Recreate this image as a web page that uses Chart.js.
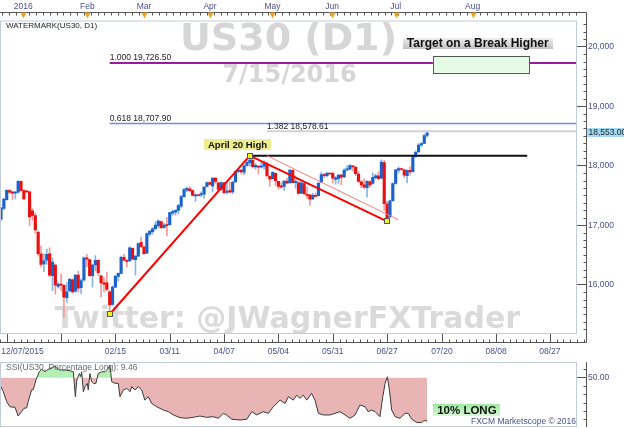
<!DOCTYPE html>
<html><head><meta charset="utf-8">
<script src="https://cdn.jsdelivr.net/npm/chart.js@4.4.1/dist/chart.umd.min.js"></script>
<style>
html,body{margin:0;padding:0;background:#fff;overflow:hidden}
#wrap{position:relative;width:624px;height:428px;background:#fff}
#main{position:absolute;left:0;top:0}
#ssi{position:absolute;left:0;top:362px}
</style></head><body>
<div id="wrap">
<canvas id="main" width="624" height="362"></canvas>
<canvas id="ssi" width="624" height="66"></canvas>
</div>
<script>
// ---------------- DATA ----------------
// daily candles, bar index 0 = 2015-12-21 ... 149 = 2016-07-15
const opens = [17100,17280,17430,17580,17560,17540,17553,17737,17581,17575,
17560,17240,17160,16880,16520,16350,16410,16520,16150,16330,
15970,16010,15990,15780,15900,16080,15890,16160,15950,16080,
16450,16420,16150,16330,16410,16150,16030,16030,15880,15670,
15960,16140,16190,16460,16410,16400,16610,16420,16480,16710,
16630,16530,16850,16890,16940,16990,17060,16960,17010,17010,
17200,17220,17250,17320,17480,17590,17610,17580,17490,17510,
17510,17520,17650,17715,17660,17790,17710,17600,17710,17550,
17580,17560,17725,17905,17925,17890,18005,18050,18095,17980,
17990,17975,17990,18030,17820,17780,17870,17735,17660,17650,
17740,17710,17920,17715,17710,17540,17700,17520,17510,17440,
17500,17495,17720,17850,17830,17875,17870,17770,17780,17840,
17810,17930,17940,17995,17975,17860,17730,17680,17630,17730,
17700,17800,17830,17790,18050,17360,17140,17410,17700,17925,
17950,17930,17830,17920,17900,18150,18230,18350,18375,18510];
const highs = [17300,17450,17600,17600,17570,17570,17750,17745,17600,17580,
17570,17280,17200,16900,16650,16520,16600,16620,16450,16350,
16030,16180,16000,16040,16110,16100,16170,16230,16100,16470,
16510,16430,16340,16490,16420,16160,16120,16210,15900,15980,
16160,16200,16480,16510,16420,16640,16620,16490,16700,16800,
16650,16870,16910,16960,17060,17090,17070,17030,17130,17220,
17260,17260,17350,17500,17620,17640,17650,17600,17530,17520,
17560,17650,17730,17730,17800,17800,17720,17730,17720,17700,
17720,17740,17910,17950,17940,18010,18100,18168,18130,18040,
18000,18060,18080,18060,17830,17900,17880,17740,17720,17750,
17790,17935,17930,17830,17740,17730,17720,17640,17520,17540,
17540,17720,17890,17870,17880,17880,17890,17820,17850,17860,
17950,18000,18020,18000,17980,17900,17760,17780,17750,17750,
17880,17860,17900,18100,18090,17400,17420,17710,17940,17980,
17960,17940,17930,17980,18160,18250,18370,18390,18530,18580];
const lows = [17080,17260,17420,17530,17430,17440,17540,17575,17430,17545,
16990,17080,16860,16480,16300,16220,16340,16130,15900,15840,
15940,15900,15450,15700,15880,15860,15870,15880,15850,16060,
16300,16140,15960,16230,16150,15800,15880,15900,15503,15650,
15950,16060,16180,16400,16300,16390,16420,16160,16470,16620,
16510,16520,16820,16850,16920,16960,16940,16950,16820,17000,
17170,17170,17190,17290,17470,17560,17560,17490,17400,17490,
17480,17450,17640,17680,17560,17700,17580,17580,17530,17520,
17550,17530,17720,17880,17860,17850,17990,17990,17960,17940,
17860,17960,17940,17810,17650,17770,17670,17610,17620,17580,
17700,17710,17710,17620,17520,17530,17510,17450,17330,17430,
17480,17490,17710,17800,17810,17855,17710,17690,17700,17680,
17800,17910,17930,17910,17830,17720,17630,17620,17470,17640,
17690,17770,17760,17780,17250,17063,17130,17400,17690,17880,
17920,17800,17710,17840,17890,18140,18225,18320,18370,18480];
const closes = [17290,17440,17585,17555,17540,17555,17737,17581,17441,17560,
17140,17165,16920,16520,16340,16400,16510,16160,16380,15990,
16010,15990,15790,15880,16090,15880,16160,15940,16070,16450,
16430,16150,16330,16410,16200,16030,16010,15920,15660,15960,
16140,16190,16460,16410,16390,16620,16430,16480,16690,16640,
16520,16860,16900,16940,17000,17070,16960,17000,16990,17210,
17230,17250,17330,17480,17600,17620,17580,17500,17510,17495,
17530,17640,17715,17685,17790,17735,17600,17715,17545,17575,
17555,17720,17905,17925,17895,18000,18055,18095,17985,18005,
17975,17990,18040,17830,17775,17890,17750,17650,17640,17740,
17705,17925,17715,17735,17535,17710,17530,17500,17435,17500,
17485,17705,17850,17830,17875,17860,17790,17795,17840,17805,
17920,17945,18000,17980,17865,17735,17675,17640,17735,17675,
17805,17830,17780,18060,17360,17120,17410,17700,17930,17950,
17935,17840,17920,17895,18145,18225,18345,18370,18505,18553];

// axis categories / tick labels (positions in bar-index units)
const bottomLabels   = ['12/07/2015','02/15','03/11','04/07','05/04','05/31','06/27','07/20','08/08','08/27'];
const bottomLabelIdx = [7.5, 40, 59, 78, 97, 116, 135, 154.2, 173.1, 191.9];
const bottomMajorIdx = [2.1, 21, 40, 59, 78, 97, 116, 135, 154.2, 173.1, 191.9];
const monthLabels = ['2016','Feb','Mar','Apr','May','Jun','Jul','Aug'];
const monthIdx    = [7.8, 30.2, 50, 73.1, 94.9, 115.8, 138, 164.9];
const priceTicks  = [16000, 17000, 18000, 19000, 20000];
const lastPrice   = 18553.00;

// fibonacci levels
const fibRatios   = ['1.000', '0.618', '1.382'];
const fibLevels   = [19726.50, 18707.90, 18578.61];
const fibStartIdx = [38, 38, 93];

// swing points (Feb 11 low, Apr 20 high, Jun 27 low) and channel line
const swingIdx   = [38, 87, 135];
const swingPrice = [15503, 18168, 17063];
const channelIdx   = [93, 139];
const channelPrice = [18168, 17089];
const highLineEndIdx = 184;
const targetZoneIdx   = [151, 184.6];
const targetZonePrice = [19566, 19846];
const aprLabelAt    = [82.7, 18352];
const targetLabelAt = [166.7, 20061];

// SSI (percentage long)
const ssiIdx = [0,0.8,2,3.1,4.9,6,7.2,8,9,9.5,
10.7,11.3,12.2,13.4,14.2,15.4,16.5,17.7,18.9,19.5,
20.6,22.4,24.1,25.3,26,26.5,27.4,27.9,28.2,28.8,
29.4,30.2,30.5,31.1,31.7,32.3,33.2,34,35.2,36.4,
37.5,38.1,38.7,39.9,41,41.6,42.8,44,45.1,45.7,
46.9,48,49.2,50.3,51.5,52.7,54.4,56.8,58.5,60.3,
62.6,64.9,67.2,69.6,71.9,74.2,76,77.7,78.9,80.7,
83.6,85.9,87.7,89.4,91.7,93.5,95.2,97.6,99.3,100.5,
102.2,103.4,104.5,105.7,106.9,108.6,109.8,111,112.7,115,
116.8,118.5,120.3,122,123.8,125.5,127.3,128.4,129.6,130.8,
132.5,133.5,134.3,135.1,135.8,136.6,137.8,139.5,141.3,142.4,
143.6,145.4,147.1,147.9,149];
const ssiVal = [41.6,36.9,27.5,22.8,22.3,14.1,18.2,21.3,21.8,27.5,
38.5,38.9,47.8,55.6,57.9,55.6,57.9,58.8,61,58.8,
57.2,57.2,56.5,55.6,32.2,47.8,53.9,51.1,55.6,36.9,
41.6,44.7,38.5,53.9,46.3,44.7,44.7,53.9,55.6,55.6,
58.8,61.9,46.3,44.7,44.7,32.2,38.5,40,36.9,41.6,
38.5,41.6,38.5,29,32.2,25.9,22.8,19.7,18.2,15.1,
12.6,12,12.9,14.1,12.9,13.5,12,16.6,15.1,11.1,
10.4,11.1,18.2,15.1,18.2,16.6,22.8,29,25.9,32.2,
29,33.7,30.6,33.7,29,35.3,29,16.6,15.1,15.1,
16.6,18.2,15.1,12,15.1,24.4,22.8,18.2,19.7,18.2,
13.5,32.2,44.7,50.9,38.5,19.7,13.5,12,16.6,16.6,
11.1,8,8,9.9,9.46];
const ssiTicks = [50];
const ssiLabelText = '10% LONG';
const ssiLabelAt = [162.9, 19.8];

// ---------------- STYLE ----------------
const SANS = '"Liberation Sans", Arial, sans-serif';
const WM = '"DejaVu Sans", Verdana, sans-serif';
const AXIS_TXT = '#4b4f8a';
const AXIS_LN = '#555555';
const BORDER = '#c3cbdb';
const UP = '#1a62cc', DOWN = '#e81010', UPW = '#8ab4e6', DOWNW = '#f29a9a';
const X_MIN = -0.35, X_MAX = 201.4;

function fmt(v, d){ return v.toLocaleString('en-US',{minimumFractionDigits:d, maximumFractionDigits:d}); }
function seg(ctx,x1,y1,x2,y2){ ctx.beginPath(); ctx.moveTo(x1,y1); ctx.lineTo(x2,y2); ctx.stroke(); }
function noPad(s){ s.paddingLeft = 0; s.paddingRight = 0; s.paddingTop = 0; s.paddingBottom = 0; }

const isUp = opens.map((o,i)=>closes[i] >= o);

const mainDecor = {
  id:'mainDecor',
  beforeDatasetsDraw(chart){
    const {ctx, chartArea:a} = chart;
    ctx.save();
    ctx.beginPath(); ctx.rect(a.left,a.top,a.right-a.left,a.bottom-a.top); ctx.clip();
    const cx = (a.left+a.right)/2;
    ctx.fillStyle = '#d6d6d6'; ctx.textAlign='center'; ctx.textBaseline='alphabetic';
    ctx.font = 'bold 38px '+WM; ctx.fillText('US30 (D1)', cx, 50);
    ctx.font = 'bold 24px '+WM; ctx.fillText('7/15/2016', cx+1, 82);
    ctx.fillStyle = '#dadada';
    ctx.font = 'bold 30px '+WM; ctx.fillText('Twitter: @JWagnerFXTrader', cx-1, 328);
    ctx.restore();
  },
  afterDatasetsDraw(chart){
    const {ctx, chartArea:a, scales:{x,y}} = chart;
    const X = v=>x.getPixelForValue(v), Y = v=>y.getPixelForValue(v);
    ctx.save();
    ctx.beginPath(); ctx.rect(a.left,a.top,a.right-a.left,a.bottom-a.top); ctx.clip();
    // fib levels
    const fibColors = ['#9a1c9a','#8282ee','#d2d2d2'];
    const fibWidths = [2, 1.5, 2];
    fibLevels.forEach((lv,k)=>{
      const yy = Y(lv);
      ctx.strokeStyle = fibColors[k]; ctx.lineWidth = fibWidths[k];
      seg(ctx, X(fibStartIdx[k]), yy, a.right, yy);
    });
    ctx.fillStyle = '#222'; ctx.font = '8.5px '+SANS; ctx.textAlign='left'; ctx.textBaseline='alphabetic';
    fibLevels.forEach((lv,k)=>{
      ctx.fillText(fibRatios[k]+' '+fmt(lv,2), X(fibStartIdx[k]), Y(lv)-2.5);
    });
    // April 20 high horizontal
    ctx.strokeStyle = '#111'; ctx.lineWidth = 2;
    seg(ctx, X(swingIdx[1]), Y(swingPrice[1]), X(highLineEndIdx), Y(swingPrice[1]));
    // channel (thin)
    ctx.strokeStyle = '#ff7c7c'; ctx.lineWidth = 1;
    seg(ctx, X(channelIdx[0]), Y(channelPrice[0]), X(channelIdx[1]), Y(channelPrice[1]));
    // swing lines
    ctx.strokeStyle = '#ff0000'; ctx.lineWidth = 2;
    ctx.beginPath();
    swingIdx.forEach((s,k)=>{ const px=X(s), py=Y(swingPrice[k]); k?ctx.lineTo(px,py):ctx.moveTo(px,py); });
    ctx.stroke();
    // markers
    swingIdx.forEach((s,k)=>{
      const px=Math.round(X(s)), py=Math.round(Y(swingPrice[k]));
      ctx.fillStyle='#f2f222'; ctx.fillRect(px-2.5,py-2.5,5,5);
      ctx.strokeStyle='#555'; ctx.lineWidth=1; ctx.strokeRect(px-2.5,py-2.5,5,5);
    });
    // April 20 High label
    ctx.font = 'bold 9.6px '+SANS;
    let t = 'April 20 High', w = ctx.measureText(t).width;
    let cx = X(aprLabelAt[0]), cy = Y(aprLabelAt[1]);
    ctx.fillStyle = '#eeee90'; ctx.fillRect(Math.round(cx-w/2-4), Math.round(cy-5.5), Math.round(w+8), 11);
    ctx.fillStyle = '#111'; ctx.textAlign='center'; ctx.textBaseline='middle';
    ctx.fillText(t, cx, cy+0.5);
    // target zone
    const zx1=X(targetZoneIdx[0]), zx2=X(targetZoneIdx[1]), zy1=Y(targetZonePrice[1]), zy2=Y(targetZonePrice[0]);
    ctx.fillStyle = '#e6fbe6'; ctx.fillRect(zx1, zy1, zx2-zx1, zy2-zy1);
    ctx.strokeStyle = '#4d5a4d'; ctx.lineWidth = 1;
    ctx.strokeRect(Math.round(zx1)+0.5, Math.round(zy1)+0.5, Math.round(zx2-zx1), Math.round(zy2-zy1));
    // target label
    ctx.font = 'bold 12px '+SANS;
    t = 'Target on a Break Higher'; w = ctx.measureText(t).width;
    cx = X(targetLabelAt[0]); cy = Y(targetLabelAt[1]);
    const g = ctx.createLinearGradient(0, cy-6, 0, cy+6);
    g.addColorStop(0,'#f2f2f2'); g.addColorStop(1,'#c2c2c2');
    ctx.fillStyle = g; ctx.fillRect(Math.round(cx-w/2-4), Math.round(cy-5.5), Math.round(w+8), 11);
    ctx.fillStyle = '#111'; ctx.textAlign='center'; ctx.textBaseline='middle';
    ctx.fillText(t, cx, cy+0.5);
    ctx.restore();
    // plot border
    ctx.save();
    ctx.strokeStyle = BORDER; ctx.lineWidth = 1;
    ctx.strokeRect(a.left+0.5, a.top+0.5, a.right-a.left-1, a.bottom-a.top-1);
    ctx.restore();
  },
  afterDraw(chart){
    const {ctx, chartArea:a, scales:{x,y}} = chart;
    const X = v=>x.getPixelForValue(v);
    ctx.save();
    ctx.strokeStyle = AXIS_LN; ctx.lineWidth = 1;
    const topY = 12.5, botY = Math.round(a.bottom)+8.5, axX = Math.round(a.right)+9.5;
    // top ruler
    seg(ctx, 0, topY, axX, topY);
    for (let v = 0.3; v < X_MAX; v += 2.39) { const p=Math.round(X(v))+0.5; seg(ctx,p,topY,p,topY+3); }
    ctx.fillStyle = '#f4a11e';
    monthIdx.forEach(m=>{ const p=Math.round(X(m))+0.5; ctx.beginPath(); ctx.moveTo(p-3,topY); ctx.lineTo(p+3,topY); ctx.lineTo(p,topY+6); ctx.closePath(); ctx.fill(); });
    // bottom ruler
    seg(ctx, 0, botY, axX, botY);
    for (let k=0;k<bottomMajorIdx.length;k++){
      const m = bottomMajorIdx[k];
      const p=Math.round(X(m))+0.5; seg(ctx,p,Math.round(a.bottom),p,botY);
      const nxt = k+1<bottomMajorIdx.length ? bottomMajorIdx[k+1] : m+18.9;
      const st = (nxt-m)/8;
      for (let j=1;j<8;j++){ const q=Math.round(X(m+st*j))+0.5; if(q<axX) seg(ctx,q,botY-3,q,botY); }
      if (k===0){ for (let j=1;j<3;j++){ const q=Math.round(X(m-st*j))+0.5; if(q>0) seg(ctx,q,botY-3,q,botY);} }
    }
    // right axis line and minor ticks
    seg(ctx, axX, topY, axX, botY);
    for (let v = Math.ceil(y.min/125)*125; v <= y.max; v += 125){
      if (v % 1000 === 0) continue;
      const p = Math.round(y.getPixelForValue(v))+0.5; seg(ctx, axX-3, p, axX, p);
    }
    // last price tag
    const py = y.getPixelForValue(lastPrice);
    ctx.fillStyle = '#a4daf2'; ctx.fillRect(axX+0.5, Math.round(py-4.5), 624-axX, 9);
    ctx.fillStyle = '#222'; ctx.font='8.5px '+SANS; ctx.textAlign='left'; ctx.textBaseline='middle';
    ctx.fillText(fmt(lastPrice,2), axX+2, py);
    // watermark caption
    ctx.fillStyle = '#222'; ctx.font = '8px '+SANS; ctx.textBaseline='middle';
    ctx.fillText('WATERMARK(US30, D1)', 6, 26);
    ctx.restore();
  }
};

const mainChart = new Chart(document.getElementById('main'), {
  type: 'bar',
  data: { datasets: [
    { label:'body', order:0, grouped:false, barThickness:2.5, minBarLength:1, borderWidth:0,
      data: opens.map((o,i)=>({x:i, y:[o, closes[i]]})),
      backgroundColor: isUp.map(u=>u?UP:DOWN) },
    { label:'wick', order:1, grouped:false, barThickness:1, borderWidth:0,
      data: lows.map((l,i)=>({x:i, y:[l, highs[i]]})),
      backgroundColor: isUp.map(u=>u?UPW:DOWNW) }
  ]},
  options: {
    responsive:false, animation:false, devicePixelRatio:1,
    layout:{padding:0},
    plugins:{legend:{display:false}, tooltip:{enabled:false}},
    scales:{
      x:{ type:'linear', position:'bottom', min:X_MIN, max:X_MAX, offset:false,
          grid:{display:false, drawTicks:false}, border:{display:false},
          afterBuildTicks: s=>{ s.ticks = bottomLabelIdx.map(v=>({value:v})); },
          ticks:{ autoSkip:false, maxRotation:0, padding:13, color:AXIS_TXT,
                  font:{family:SANS, size:8.5}, callback:(v,i)=>bottomLabels[i] },
          afterFit: s=>{ s.height = 28; noPad(s); } },
      xTop:{ type:'linear', position:'top', min:X_MIN, max:X_MAX, offset:false,
          grid:{display:false, drawTicks:false}, border:{display:false},
          afterBuildTicks: s=>{ s.ticks = monthIdx.map(v=>({value:v})); },
          ticks:{ autoSkip:false, maxRotation:0, padding:9, color:AXIS_TXT,
                  font:{family:SANS, size:8.5}, callback:(v,i)=>monthLabels[i] },
          afterFit: s=>{ s.height = 20.5; noPad(s); } },
      y:{ type:'linear', position:'right', min:15171, max:20440,
          grid:{drawOnChartArea:false, tickLength:9, color:AXIS_LN}, border:{display:false},
          afterBuildTicks: s=>{ s.ticks = priceTicks.map(v=>({value:v})); },
          ticks:{ padding:2, color:AXIS_TXT, font:{family:SANS, size:8.5}, callback:v=>fmt(v,0) },
          afterFit: s=>{ s.width = 47; noPad(s); } }
    }
  },
  plugins:[mainDecor]
});

const ssiDecor = {
  id:'ssiDecor',
  afterDraw(chart){
    const {ctx, chartArea:a, scales:{x,y}} = chart;
    ctx.save();
    ctx.strokeStyle = BORDER; ctx.lineWidth=1;
    ctx.strokeRect(a.left+0.5, a.top+0.5, a.right-a.left-1, a.bottom-a.top-1);
    const axX = Math.round(a.right)+9.5;
    ctx.strokeStyle = AXIS_LN;
    seg(ctx, axX, a.top, axX, a.bottom);
    for (let k=-6;k<=3;k++){
      if(!k) continue;
      const v = 50 + k*7.8; if (v<y.min || v>y.max) continue;
      const p=Math.round(y.getPixelForValue(v))+0.5; seg(ctx, axX-3, p, axX, p);
    }
    ctx.fillStyle = '#6a6a6a'; ctx.font='8.5px '+SANS; ctx.textAlign='left'; ctx.textBaseline='middle';
    ctx.fillText('SSI(US30, Percentage Long): '+ssiVal[ssiVal.length-1].toFixed(2), 6, a.top+5.5);
    // 10% LONG label
    ctx.font = 'bold 11.5px '+SANS;
    const t = ssiLabelText, w = ctx.measureText(t).width;
    const cx = x.getPixelForValue(ssiLabelAt[0]), cy = y.getPixelForValue(ssiLabelAt[1]);
    const g = ctx.createLinearGradient(0, cy-6, 0, cy+6);
    g.addColorStop(0,'#9fe89f'); g.addColorStop(1,'#d8f7d8');
    ctx.fillStyle = g; ctx.fillRect(Math.round(cx-w/2-4), Math.round(cy-6), Math.round(w+8), 12);
    ctx.fillStyle = '#111'; ctx.textAlign='center'; ctx.fillText(t, cx, cy+0.5);
    ctx.fillStyle = AXIS_TXT; ctx.font='8.5px '+SANS; ctx.textAlign='right';
    ctx.fillText('FXCM Marketscope \u00a9 2016', a.right-1, a.top+60);
    ctx.restore();
  }
};

const ssiChart = new Chart(document.getElementById('ssi'), {
  type:'line',
  data:{ datasets:[{ data: ssiIdx.map((v,k)=>({x:v, y:ssiVal[k]})),
    borderColor:'#3a3a3a', borderWidth:1, pointRadius:0, tension:0,
    fill:{ target:{value:50}, above:'#b6efb6', below:'#e9b4b4' } }]},
  options:{
    responsive:false, animation:false, devicePixelRatio:1,
    layout:{padding:{top:0, bottom:1, left:0, right:0}},
    plugins:{legend:{display:false}, tooltip:{enabled:false}},
    scales:{
      x:{ type:'linear', min:X_MIN, max:X_MAX, display:false },
      y:{ type:'linear', position:'right', min:3.84, max:64.7,
          grid:{drawOnChartArea:false, tickLength:9, color:AXIS_LN}, border:{display:false},
          afterBuildTicks: s=>{ s.ticks = ssiTicks.map(v=>({value:v})); },
          ticks:{ padding:2, color:AXIS_TXT, font:{family:SANS, size:8.5}, callback:v=>v.toFixed(2) },
          afterFit: s=>{ s.width = 47; noPad(s); } }
    }
  },
  plugins:[ssiDecor]
});
</script>
</body></html>
